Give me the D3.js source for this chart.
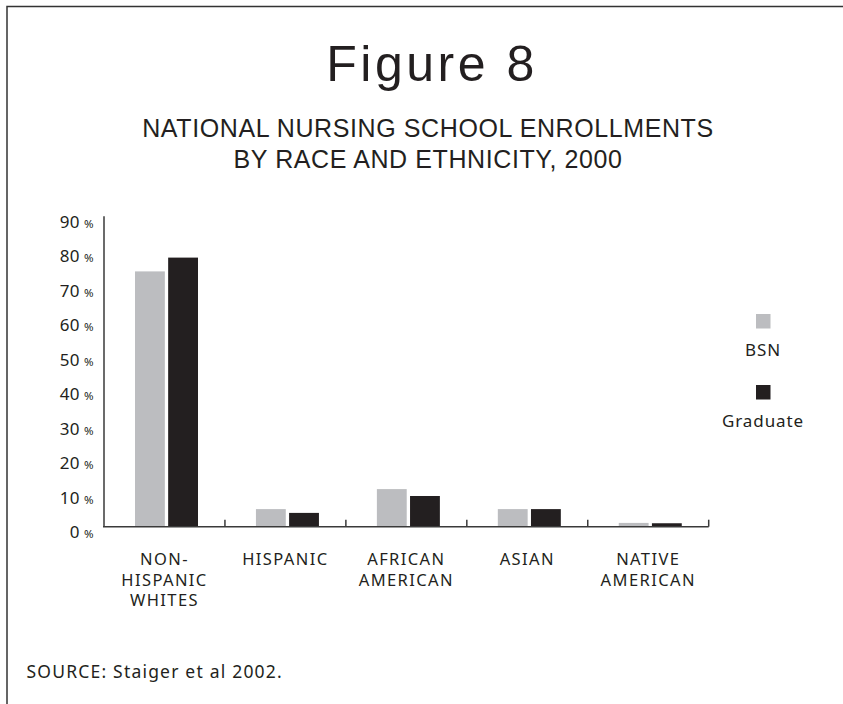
<!doctype html>
<html>
<head>
<meta charset="UTF-8">
<title>Figure 8</title>
<script src="https://d3js.org/d3.v7.min.js"></script>
<style>
  body { margin: 0; background: #fff; }
  text { fill: #231f20; }
</style>
</head>
<body>
<script>
    var categories = ["NON-|HISPANIC|WHITES", "HISPANIC", "AFRICAN|AMERICAN", "ASIAN", "NATIVE|AMERICAN"];
    var series = ["BSN", "Graduate"];
    var bsn = [74, 5.1, 10.9, 5.1, 1.1];
    var graduate = [78, 4.0, 8.9, 5.1, 1.0];
    var yTicks = [0, 10, 20, 30, 40, 50, 60, 70, 80, 90];
    var colors = ["#bcbdc0", "#231f20"];

    var w = 843, h = 704;
    var left = 104, right = 708.7, base = 526.7, yTop = 216.2;
    var bodyFont = "Noto Sans, sans-serif";

    var svg = d3.select("body").append("svg")
        .attr("width", w)
        .attr("height", h);

    // frame (top + left only)
    svg.append("path")
        .attr("d", "M7,704 L7,6.5 L843,6.5")
        .attr("fill", "none")
        .attr("stroke", "#333")
        .attr("stroke-width", 1.5);

    // titles
    svg.append("text")
        .attr("x", 432).attr("y", 80.5)
        .attr("text-anchor", "middle")
        .style("font-family", "Liberation Sans, Arial, sans-serif")
        .style("font-size", "50px")
        .style("letter-spacing", "3.5px")
        .text("Figure 8");

    var sub = ["NATIONAL NURSING SCHOOL ENROLLMENTS", "BY RACE AND ETHNICITY, 2000"];
    svg.selectAll(".sub").data(sub).enter().append("text")
        .attr("class", "sub")
        .attr("x", 428)
        .attr("y", function(d, i){ return 136.7 + i * 31.6; })
        .attr("text-anchor", "middle")
        .style("font-family", "Liberation Sans, Arial, sans-serif")
        .style("font-size", "25px")
        .style("letter-spacing", "0.6px")
        .text(function(d){ return d; });

    // scales
    var x0 = d3.scaleBand().domain(categories).range([left, right]);
    var x1 = d3.scaleBand().domain(series).range([0, 63]).paddingInner(0.1);
    var y = d3.scaleLinear().domain([0, 90]).range([base, yTop]);

    // bars
    var rows = categories.map(function(c, i){
        return { cat: c, vals: [bsn[i], graduate[i]] };
    });
    var g = svg.selectAll(".cat").data(rows).enter().append("g")
        .attr("class", "cat")
        .attr("transform", function(d){ return "translate(" + (x0(d.cat) + 31) + ",0)"; });
    g.selectAll("rect")
        .data(function(d){ return d.vals.map(function(v, j){ return { s: series[j], v: v, j: j }; }); })
        .enter().append("rect")
        .attr("x", function(d){ return x1(d.s); })
        .attr("y", function(d){ return y(d.v); })
        .attr("width", x1.bandwidth())
        .attr("height", function(d){ return base - y(d.v); })
        .attr("fill", function(d){ return colors[d.j]; });

    // axes
    var axisColor = "#3a3a3a";
    svg.append("line")
        .attr("x1", left).attr("x2", left)
        .attr("y1", yTop).attr("y2", base)
        .attr("stroke", axisColor).attr("stroke-width", 1.5);
    svg.append("line")
        .attr("x1", left - 1).attr("x2", right)
        .attr("y1", base).attr("y2", base)
        .attr("stroke", axisColor).attr("stroke-width", 1.5);
    svg.selectAll(".xtick").data(categories).enter().append("line")
        .attr("class", "xtick")
        .attr("x1", function(d){ return x0(d) + x0.bandwidth(); })
        .attr("x2", function(d){ return x0(d) + x0.bandwidth(); })
        .attr("y1", base).attr("y2", base - 7)
        .attr("stroke", axisColor).attr("stroke-width", 1.5);

    // y tick labels
    var yl = svg.selectAll(".ylab").data(yTicks).enter().append("text")
        .attr("class", "ylab")
        .attr("x", 93.5)
        .attr("y", function(d){ return y(d) + 11.5; })
        .attr("text-anchor", "end")
        .style("font-family", bodyFont)
        .style("font-size", "17px")
        .style("letter-spacing", "0.4px");
    yl.append("tspan").text(function(d){ return d; });
    yl.append("tspan").attr("dx", 4).style("font-size", "11.5px").style("letter-spacing", "0px").text("%");

    // category labels
    var cl = svg.selectAll(".clab").data(categories).enter().append("text")
        .attr("class", "clab")
        .attr("y", 565)
        .attr("text-anchor", "middle")
        .style("font-family", bodyFont)
        .style("font-size", "16.5px")
        .style("letter-spacing", "1.4px");
    cl.selectAll("tspan").data(function(d){ return d.split("|"); }).enter().append("tspan")
        .attr("x", function(){ var p = d3.select(this.parentNode).datum(); return x0(p) + x0.bandwidth() / 2; })
        .attr("dy", function(d, i){ return i ? 20.5 : 0; })
        .text(function(d){ return d; });

    // legend
    var leg = svg.selectAll(".leg").data(series).enter().append("g")
        .attr("class", "leg")
        .attr("transform", function(d, i){ return "translate(0," + (i * 71) + ")"; });
    leg.append("rect")
        .attr("x", 756).attr("y", 314)
        .attr("width", 14.5).attr("height", 14.5)
        .attr("fill", function(d, i){ return colors[i]; });
    leg.append("text")
        .attr("x", 763).attr("y", 356)
        .attr("text-anchor", "middle")
        .style("font-family", bodyFont)
        .style("font-size", "17px")
        .style("letter-spacing", "0.9px")
        .text(function(d){ return d; });

    // source
    svg.append("text")
        .attr("x", 26.5).attr("y", 677.7)
        .style("font-family", bodyFont)
        .style("font-size", "17.5px")
        .style("letter-spacing", "1.2px")
        .text("SOURCE: Staiger et al 2002.");
</script>
</body>
</html>
